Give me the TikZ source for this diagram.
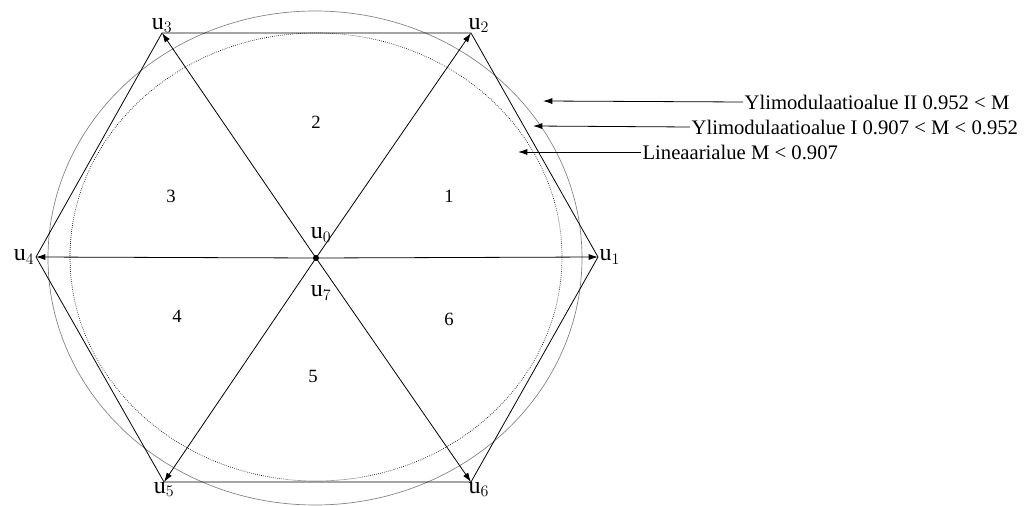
\documentclass[tikz,border=0pt]{standalone}
\usepackage{fontspec}
\setmainfont{Liberation Serif}
\usetikzlibrary{arrows.meta,positioning}

\begin{document}
\begin{tikzpicture}[x=0.75pt,y=-0.75pt,
    vec/.style={-{Latex[length=7pt,width=4.5pt]},line width=0.6pt},
    side/.style={line width=0.6pt},
    ulabel/.style={font=\fontsize{18}{18}\selectfont,inner sep=1pt},
    sector/.style={font=\fontsize{14}{14}\selectfont,inner sep=0pt},
    area/.style={font=\fontsize{15.5}{15.5}\selectfont,inner sep=1pt,anchor=west}]
    \useasboundingbox (0,0) rectangle (1032,506);

    % limit circles
    \draw[gray,line width=0.5pt] (315,258) ellipse [x radius=267,y radius=247];
    \draw[densely dotted,line width=0.5pt] (316,257) ellipse [x radius=246,y radius=224];

    % hexagon corners
    \coordinate (U1) at (598,257);
    \coordinate (U2) at (471,33);
    \coordinate (U3) at (162,33);
    \coordinate (U4) at (36,257);
    \coordinate (U5) at (164,482);
    \coordinate (U6) at (471,482);
    \node (O) [circle,fill,inner sep=0pt,minimum size=4.5pt] at (316,258) {};

    \draw[side] (U1) -- (U2) -- (U3) -- (U4) -- (U5) -- (U6) -- cycle;
    \foreach \i in {1,...,6} {
        \draw[vec] (O.center) -- (U\i);
    }

    % vector names
    \node[ulabel,anchor=west] at (U1) {u$_1$};
    \node[ulabel,anchor=south west] at ([xshift=-3pt,yshift=-1pt]U2) {u$_2$};
    \node[ulabel,anchor=south] at ([yshift=-1pt]U3) {u$_3$};
    \node[ulabel,anchor=east] at (U4) {u$_4$};
    \node[ulabel,anchor=north] at ([yshift=1pt]U5) {u$_5$};
    \node[ulabel,anchor=north west] at ([xshift=-3pt,yshift=1pt]U6) {u$_6$};
    \node (u0) [ulabel] at (321,235) {u$_0$};
    \node (u7) [ulabel] at (321,293) {u$_7$};

    % sectors
    \foreach \s/\x/\y in {1/449/196, 2/316/122, 3/171/196, 4/177/316, 5/313/376, 6/449/319} {
        \node[sector] (s\s) at (\x,\y) {\s};
    }

    % modulation areas
    \node (ovm2) [area] at (743,102) {Ylimodulaatioalue II 0.952 < M};
    \node (ovm1) [area] at (690,127) {Ylimodulaatioalue I 0.907 < M < 0.952};
    \node (lin) [area] at (641,152) {Lineaarialue M < 0.907};
    \coordinate (a1) at (543,101);
    \coordinate (a2) at (533,126);
    \coordinate (a3) at (518,152);
    \draw[vec] (ovm2.west) -- (a1);
    \draw[vec] (ovm1.west) -- (a2);
    \draw[vec] (lin.west) -- (a3);
\end{tikzpicture}
\end{document}
